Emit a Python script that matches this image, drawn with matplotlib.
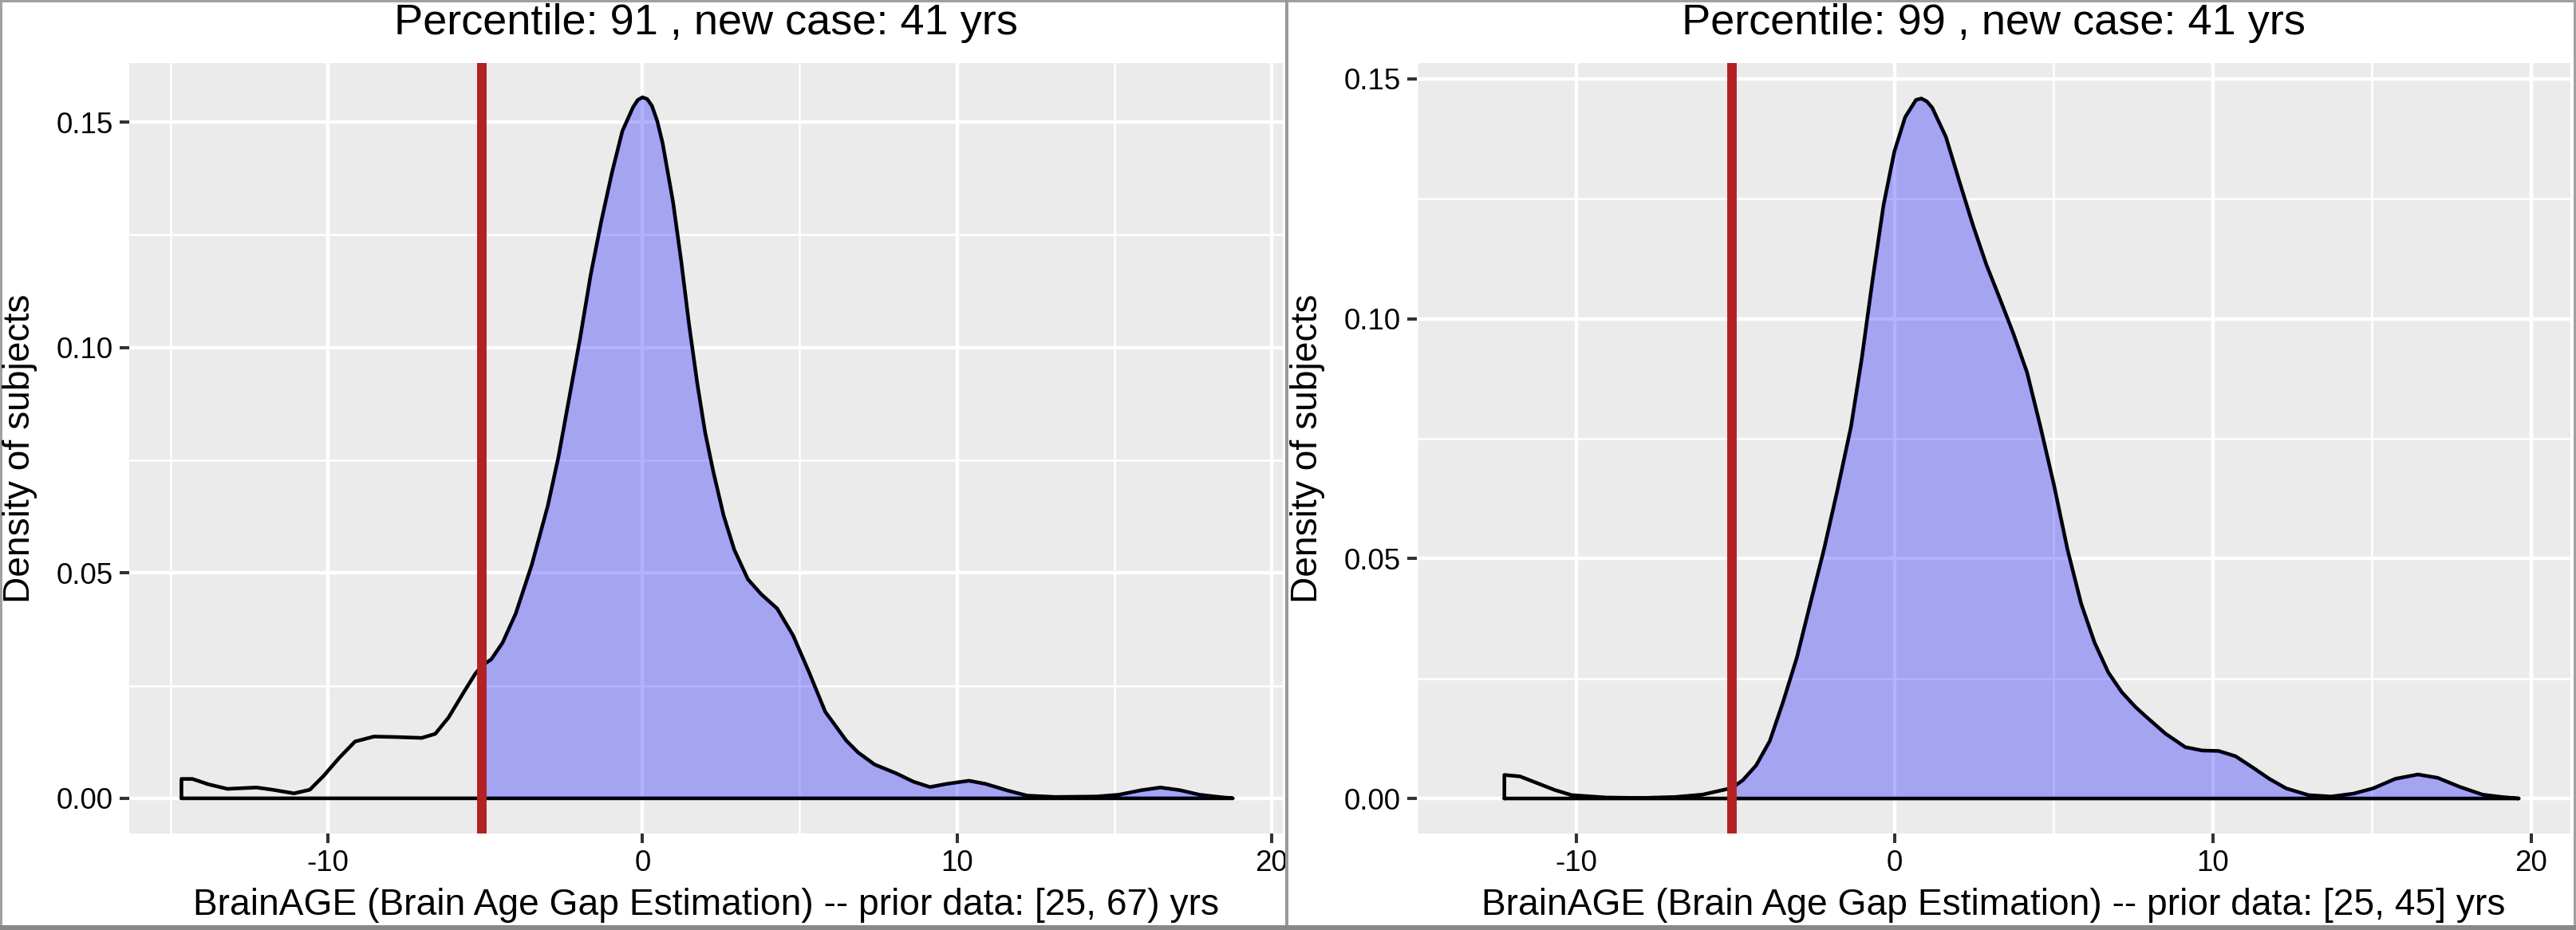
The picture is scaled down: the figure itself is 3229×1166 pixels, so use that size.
import numpy as np
import matplotlib
matplotlib.use("Agg")
import matplotlib.pyplot as plt
from matplotlib.patches import Rectangle

plt.rcParams['font.family'] = ['Liberation Sans', 'DejaVu Sans']
plt.rcParams['axes.unicode_minus'] = False

# density of the prior data
left_x = [-14.66, -14.31, -13.8, -13.2, -12.27, -11.76, -11.08, -10.58, -10.15,
          -9.64, -9.14, -8.54, -7.86, -7.02, -6.59, -6.17, -5.66, -5.32, -5.1,
          -4.81, -4.45, -4.03, -3.52, -3.01, -2.67, -2.33, -1.99, -1.65, -1.31,
          -0.97, -0.64, -0.30, -0.15, 0.0, 0.15, 0.30, 0.47, 0.64, 0.97, 1.23,
          1.48, 1.74, 1.99, 2.25, 2.58, 2.92, 3.35, 3.77, 4.28, 4.79, 5.30,
          5.81, 6.48, 6.85, 7.38, 8.08, 8.61, 9.14, 9.67, 10.38, 10.91, 11.62,
          12.23, 13.12, 14.44, 15.15, 15.86, 16.47, 17.09, 17.71, 18.33, 18.77]
left_y = [0.0043, 0.0043, 0.0031, 0.0021, 0.0024, 0.0019, 0.0011, 0.0019, 0.0049,
          0.0090, 0.0126, 0.0137, 0.0136, 0.0134, 0.0143, 0.0179, 0.0238, 0.0276, 0.0295,
          0.0308, 0.0345, 0.0410, 0.0518, 0.0649, 0.0758, 0.0888, 0.1018, 0.1160, 0.1280,
          0.1388, 0.1480, 0.1533, 0.1549, 0.1555, 0.1551, 0.1536, 0.1502, 0.1453, 0.1323, 0.1192,
          0.1051, 0.0921, 0.0812, 0.0725, 0.0627, 0.0551, 0.0486, 0.0453, 0.0421, 0.0361, 0.0279,
          0.0192, 0.0128, 0.0102, 0.0075, 0.0055, 0.0037, 0.0025, 0.0032, 0.0039, 0.0032, 0.0017,
          0.0006, 0.0003, 0.0004, 0.0008, 0.0018, 0.0024, 0.0018, 0.0008, 0.0003, 0.0]
left_case = -5.1
left_title = "Percentile: 91 , new case: 41 yrs"
left_xlabel = "BrainAGE (Brain Age Gap Estimation) -- prior data: [25, 67) yrs"

# right panel
right_x = [-12.25, -11.76, -11.22, -10.68, -10.14, -9.06, -7.98, -6.89, -6.03,
           -5.49, -5.1, -4.76, -4.34, -3.91, -3.49, -3.06, -2.64, -2.21, -1.79,
           -1.36, -1.02, -0.68, -0.34, 0.0, 0.34, 0.68, 0.85, 1.02, 1.19, 1.62,
           2.04, 2.47, 2.89, 3.32, 3.74, 4.17, 4.59, 5.02, 5.44, 5.87, 6.29,
           6.72, 7.14, 7.57, 7.90, 8.52, 9.14, 9.67, 10.19, 10.72, 11.25, 11.78,
           12.31, 13.01, 13.72, 14.42, 15.04, 15.74, 16.45, 17.07, 17.77, 18.48,
           19.09, 19.62]
right_y = [0.0049, 0.0046, 0.0032, 0.0018, 0.0007, 0.0002, 0.0001, 0.0003, 0.0008,
           0.0016, 0.0022, 0.0038, 0.0069, 0.0120, 0.0202, 0.0294, 0.0406, 0.0519, 0.0642,
           0.0775, 0.0918, 0.1082, 0.1236, 0.1348, 0.1420, 0.1456, 0.1459, 0.1453, 0.1440, 0.1379,
           0.1287, 0.1195, 0.1113, 0.1041, 0.0969, 0.0888, 0.0775, 0.0652, 0.0519, 0.0406, 0.0325,
           0.0263, 0.0222, 0.0191, 0.0171, 0.0135, 0.0107, 0.0100, 0.0099, 0.0088, 0.0065, 0.0041,
           0.0021, 0.0007, 0.0004, 0.0010, 0.0021, 0.0041, 0.0050, 0.0043, 0.0024, 0.0008,
           0.0003, 0.0]
right_case = -5.1
right_title = "Percentile: 99 , new case: 41 yrs"
right_xlabel = "BrainAGE (Brain Age Gap Estimation) -- prior data: [25, 45] yrs"

y_label = "Density of subjects"
x_major = [-10, 0, 10, 20]
x_minor = [-15, -5, 5, 15]
y_major = [0.00, 0.05, 0.10, 0.15]
y_minor = [0.025, 0.075, 0.125]

W, H = 3229, 1166
fig = plt.figure(figsize=(W / 100, H / 100), dpi=100)


def px_box(x0, y0, x1, y1):
    # pixel box (top-left origin) -> figure fraction rect
    return [x0 / W, 1 - y1 / H, (x1 - x0) / W, (y1 - y0) / H]


def draw_panel(off, xs, ys, case, xlim, ylim, title, xlabel):
    ax = fig.add_axes(px_box(off + 162, 79, off + 1608, 1045))
    ax.set_facecolor('#EBEBEB')
    for s in ax.spines.values():
        s.set_visible(False)
    xs = np.array(xs)
    ys = np.array(ys)

    # whole density outline, closed down to the baseline
    ax.plot(np.r_[xs[0], xs, xs[0]], np.r_[0, ys, 0], color='black', lw=3.3,
            solid_joinstyle='round', solid_capstyle='round', zorder=3)
    # area above the new case
    keep = xs >= case
    ax.fill_between(xs[keep], ys[keep], 0, color='blue', alpha=0.3, lw=0, zorder=4)
    ax.plot(np.r_[xs[keep], xs[keep][0]], np.r_[ys[keep], 0], color='black', lw=2.0,
            solid_joinstyle='round', zorder=5)
    ax.axvline(case, color='#B22222', lw=8.6, zorder=6)

    ax.set_xlim(*xlim)
    ax.set_ylim(*ylim)
    ax.set_xticks(x_major)
    ax.set_xticks(x_minor, minor=True)
    ax.set_yticks(y_major)
    ax.set_yticks(y_minor, minor=True)
    ax.set_yticklabels(["%.2f" % v for v in y_major])
    ax.set_axisbelow(True)
    ax.grid(which='major', color='white', lw=3.2)
    ax.grid(which='minor', color='white', lw=1.8)
    ax.tick_params(which='major', length=8.6, width=2.9, color='#333333',
                   labelsize=26.5, labelcolor='black', pad=6)
    ax.tick_params(which='minor', length=0)

    fig.text((off + 885) / W, 1 - 43 / H, title, ha='center', va='baseline',
             fontsize=39)
    fig.text((off + 885) / W, 1 - 1147 / H, xlabel, ha='center', va='baseline',
             fontsize=33.2)
    fig.text((off + 25) / W, 1 - 562 / H, y_label, ha='center', va='center',
             rotation=90, fontsize=33.2)
    return ax


draw_panel(0, left_x, left_y, left_case, (-16.32, 20.36), (-0.0078, 0.1631),
           left_title, left_xlabel)
draw_panel(1614, right_x, right_y, right_case, (-13.86, 21.24), (-0.0073, 0.1533),
           right_title, right_xlabel)

# frames around the two pasted plots
for box, col in [((0, 0, W, 3), '#a0a0a0'), ((0, 0, 3, H), '#a0a0a0'),
                 ((W - 3, 0, W, H), '#a0a0a0'), ((1611, 0, 1615, H), '#999999'),
                 ((0, H - 6, W, H), '#888888')]:
    r = px_box(*box)
    fig.add_artist(Rectangle(r[:2], r[2], r[3], transform=fig.transFigure,
                             color=col, lw=0))

fig.savefig('out.png', dpi=100)
